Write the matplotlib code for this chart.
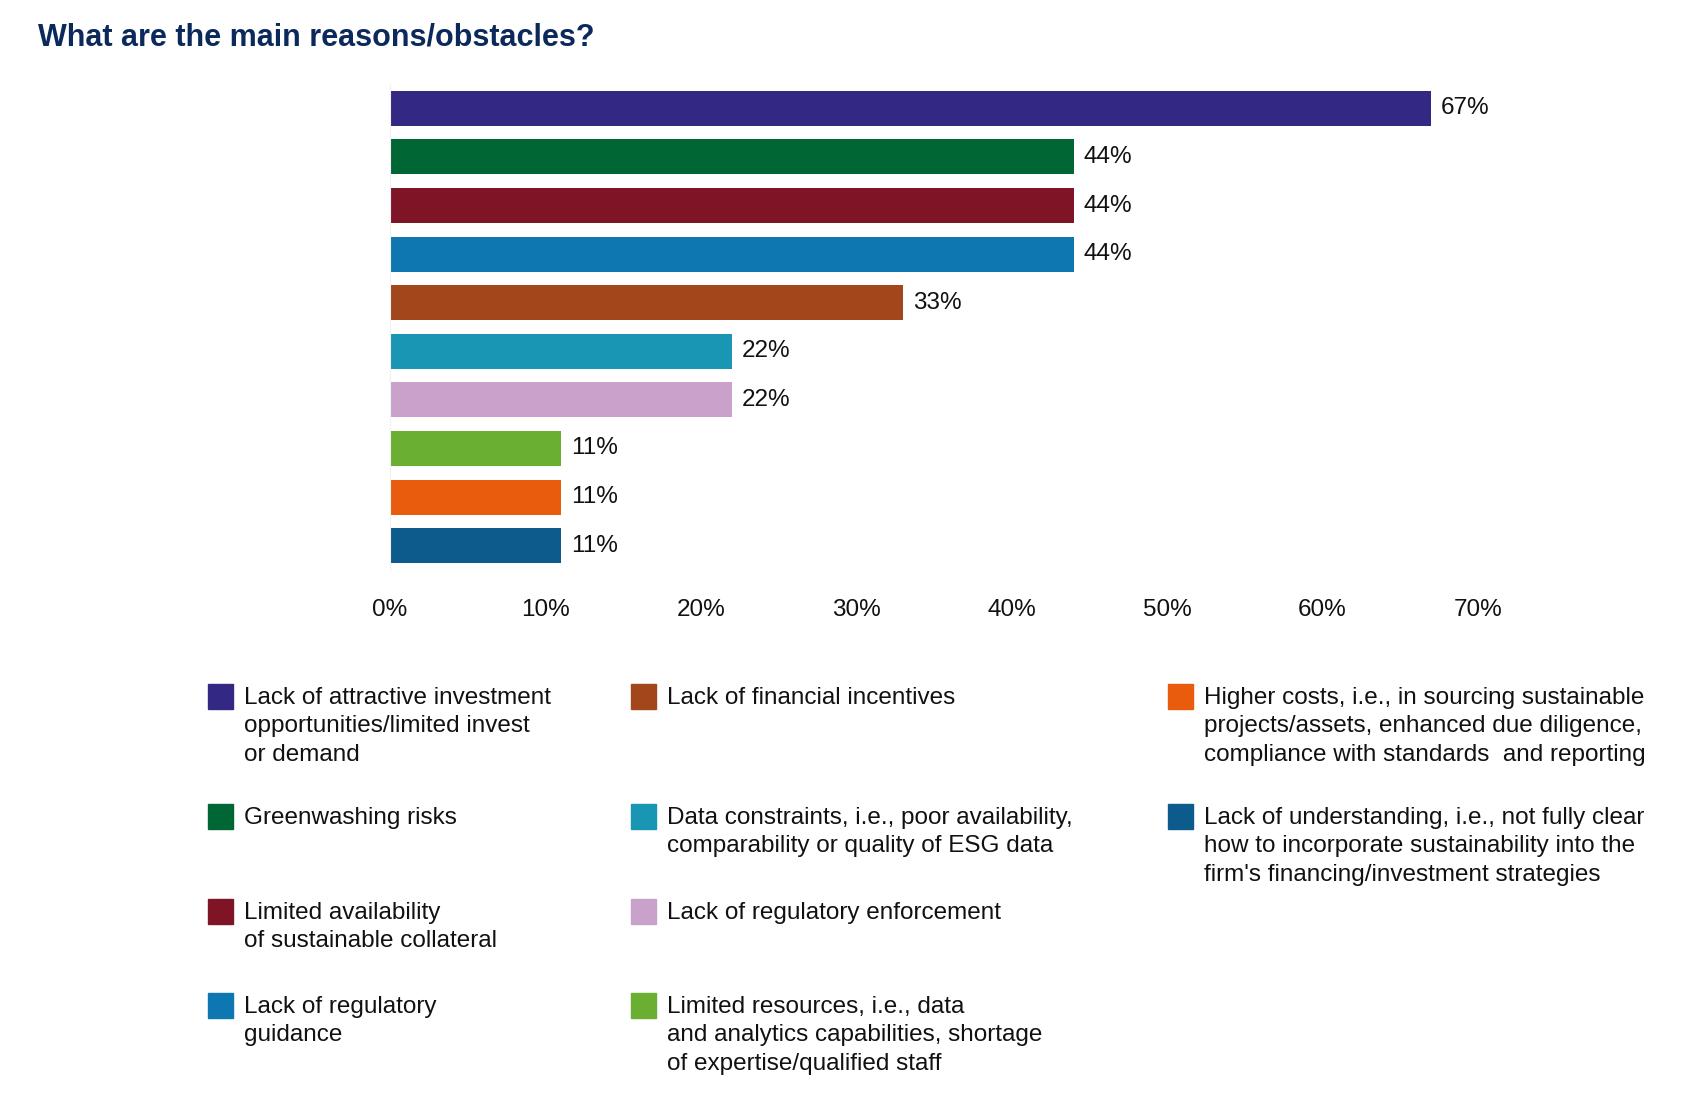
import matplotlib
matplotlib.use("Agg")
import matplotlib.pyplot as plt
from matplotlib.patches import Rectangle

plt.rcParams["font.family"] = ["Liberation Sans", "DejaVu Sans"]

title = "What are the main reasons/obstacles?"

labels = [
    "Lack of attractive investment\nopportunities/limited invest\nor demand",
    "Greenwashing risks",
    "Limited availability\nof sustainable collateral",
    "Lack of regulatory\nguidance",
    "Lack of financial incentives",
    "Data constraints, i.e., poor availability,\ncomparability or quality of ESG data",
    "Lack of regulatory enforcement",
    "Limited resources, i.e., data\nand analytics capabilities, shortage\nof expertise/qualified staff",
    "Higher costs, i.e., in sourcing sustainable\nprojects/assets, enhanced due diligence,\ncompliance with standards  and reporting",
    "Lack of understanding, i.e., not fully clear\nhow to incorporate sustainability into the\nfirm's financing/investment strategies",
]
values = [67, 44, 44, 44, 33, 22, 22, 11, 11, 11]
colors = ["#332884", "#006634", "#7e1426", "#0e76b0", "#a2461c",
          "#1896b4", "#caa1cb", "#6aae32", "#e95c0e", "#0d5a8c"]
xticks = [0, 10, 20, 30, 40, 50, 60, 70]

W, H = 1702, 1118
fig = plt.figure(figsize=(W / 100, H / 100), dpi=100)

def fx(px):
    return px / W

def fy(py):
    return 1 - py / H

# bar chart
ax = fig.add_axes([fx(390), fy(570), fx(1478) - fx(390), fy(84) - fy(570)])
ypos = list(range(len(values)))
ax.barh(ypos, values, height=0.72, color=colors)
for y, v in zip(ypos, values):
    ax.annotate(f"{v}%", (v, y), xytext=(7, 0), textcoords="offset points",
                va="center", ha="left", fontsize=17.5, color="#111111")
ax.set_xlim(0, 70)
ax.set_ylim(len(values) - 0.5, -0.5)
ax.set_xticks(xticks)
ax.set_xticklabels([f"{t}%" for t in xticks], fontsize=17.5, color="#111111")
ax.set_yticks([])
ax.tick_params(axis="x", length=0, pad=21)
for s in ["top", "right", "bottom"]:
    ax.spines[s].set_visible(False)
ax.spines["left"].set_color("#f0f0f0")

fig.text(fx(38), fy(37), title, fontsize=22, fontweight="bold",
         color="#0b2a5b", va="center", ha="left")

# legend, three columns
col_x = [208, 631, 1168]
row_y = [[684, 804, 899, 993], [684, 804, 899, 993], [684, 804]]
idx = 0
for c, rows in enumerate(row_y):
    for ry in rows:
        fig.patches.append(Rectangle((fx(col_x[c]), fy(ry + 25)), fx(25), fy(0) - fy(25),
                                     transform=fig.transFigure, color=colors[idx]))
        fig.text(fx(col_x[c] + 36), fy(ry + 3), labels[idx], fontsize=17.5,
                 color="#111111", va="top", ha="left", linespacing=1.38)
        idx += 1

fig.savefig("out.png", dpi=100, facecolor="white")
